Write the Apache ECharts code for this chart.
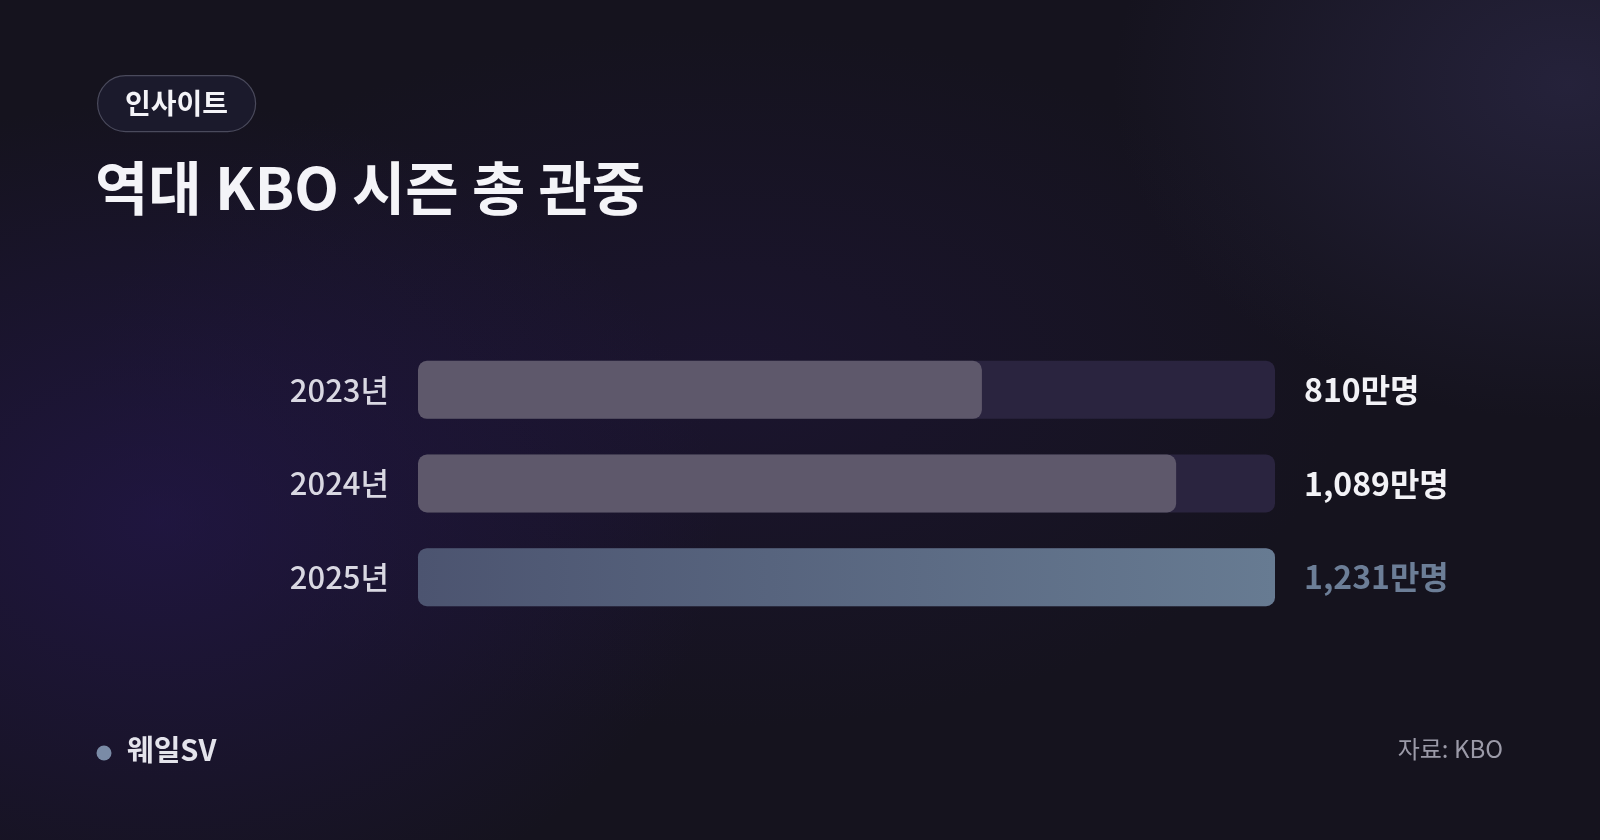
<!DOCTYPE html>
<html><head><meta charset="utf-8">
<script src="https://cdn.jsdelivr.net/npm/echarts@6/dist/echarts.min.js"></script>
<style>
html,body{margin:0;padding:0;width:1600px;height:840px;overflow:hidden;
background:
 radial-gradient(ellipse 800px 600px at 10% 62%, rgba(40,24,90,0.55), rgba(40,24,90,0) 70%),
 radial-gradient(ellipse 650px 480px at 98% 10%, rgba(50,46,82,0.55), rgba(50,46,82,0) 70%),
 radial-gradient(ellipse 900px 500px at 45% 45%, rgba(34,22,66,0.45), rgba(34,22,66,0) 70%),
 #15131e;}
#c{width:1600px;height:840px;}
</style></head><body><div id="c"></div>
<script>
const categories = ['2023년','2024년','2025년'];
const values = [810, 1089, 1231];
const valueLabels = ['810만명','1,089만명','1,231만명'];
const maxValue = 1231;

const FONT = '"Noto Sans CJK KR","Noto Sans",sans-serif';
const chart = echarts.init(document.getElementById('c'), null, {renderer:'canvas'});

const barColors = [
  '#5e586b',
  '#5e586b',
  new echarts.graphic.LinearGradient(0,0,1,0,[{offset:0,color:'#4c5470'},{offset:1,color:'#677b92'}])
];
const labelColors = ['#f2f2f6','#f2f2f6','#6c7e97'];

chart.setOption({
  backgroundColor:'transparent',
  animation:false,
  grid:{left:418,right:325,top:343,bottom:216,containLabel:false},
  xAxis:{type:'value',min:0,max:maxValue,show:false},
  yAxis:{type:'category',data:categories,inverse:true,
    axisLine:{show:false},axisTick:{show:false},splitLine:{show:false},
    axisLabel:{margin:29,color:'#d9d8e2',fontSize:31,fontFamily:FONT,fontWeight:500}},
  series:[
    {type:'bar',barWidth:58,barGap:'-100%',silent:true,
     data:values.map(()=>maxValue),
     itemStyle:{color:'#2a243f',borderRadius:9},
     label:{show:true,position:'right',distance:29,fontFamily:FONT,fontSize:32,fontWeight:'bold',
       formatter:p=>'{v'+p.dataIndex+'|'+valueLabels[p.dataIndex]+'}',
       rich:{v0:{color:labelColors[0],fontSize:32,fontWeight:'bold',fontFamily:FONT},
             v1:{color:labelColors[1],fontSize:32,fontWeight:'bold',fontFamily:FONT},
             v2:{color:labelColors[2],fontSize:32,fontWeight:'bold',fontFamily:FONT}}}
    },
    {type:'bar',barWidth:58,barGap:'-100%',z:3,
     data:values.map((v,i)=>({value:v,itemStyle:{color:barColors[i]}})),
     itemStyle:{borderRadius:9}}
  ],
  graphic:[
    {type:'rect',left:97,top:75,shape:{width:158,height:56,r:28},
     style:{fill:'#1b1a2c',stroke:'#4a4a5c',lineWidth:1.2},
     textContent:{type:'text',style:{text:'인사이트',fill:'#f4f4f8',font:'bold 28px '+FONT}},
     textConfig:{position:'inside'}},
    {type:'text',left:95,top:159,style:{text:'역대 KBO 시즌 총 관중',fill:'#f4f4f8',font:'bold 58px '+FONT}},
    {type:'circle',shape:{cx:104,cy:753,r:7.5},style:{fill:'#7a8ba6'}},
    {type:'text',left:127,top:735,style:{text:'웨일SV',fill:'#e4e4ec',font:'bold 29px '+FONT}},
    {type:'text',right:97,top:737,style:{text:'자료: KBO',fill:'#9b9aa8',font:'24px '+FONT}}
  ]
});
</script></body></html>
